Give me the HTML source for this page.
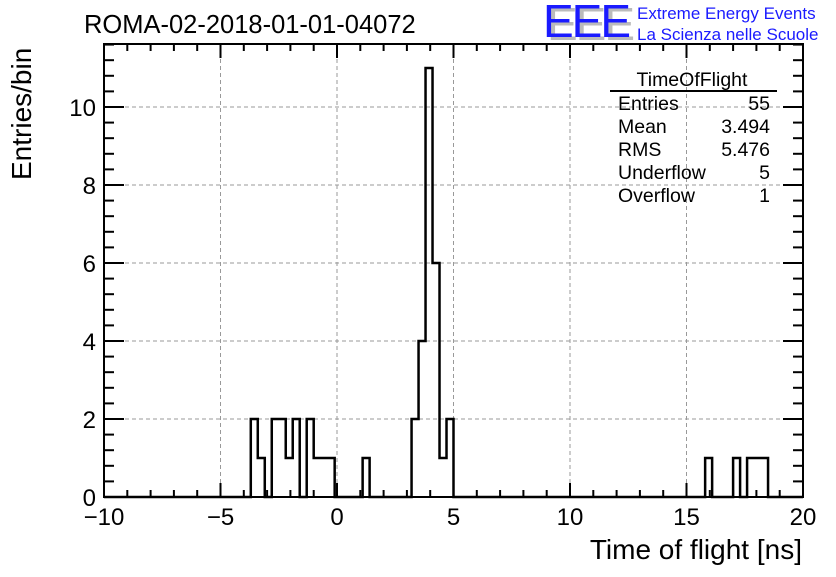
<!DOCTYPE html>
<html><head><meta charset="utf-8"><style>
body{margin:0;background:#fff}
svg text{font-family:"Liberation Sans",sans-serif}
</style></head><body>
<svg width="836" height="572" xmlns="http://www.w3.org/2000/svg">
<rect width="836" height="572" fill="#fff"/>
<g id="grid"></g>
<g id="axes"></g>
<path id="hist" fill="none" stroke="#000" stroke-width="2.5"/>
<text x="84" y="33" font-size="25.5">ROMA-02-2018-01-01-04072</text>
<text x="802" y="559" font-size="28" text-anchor="end">Time of flight [ns]</text>
<text transform="translate(31,180) rotate(-90)" font-size="28">Entries/bin</text>
<g>
<text x="547" y="40" font-size="46" fill="#bbb" style="letter-spacing:-2px">EEE</text>
<text x="543" y="37" font-size="46" fill="#1a1aff" style="letter-spacing:-2px">EEE</text>
<text x="637" y="19" font-size="17" fill="#1a1aff">Extreme Energy Events</text>
<text x="637" y="40" font-size="17" fill="#1a1aff">La Scienza nelle Scuole</text>
</g>
<g font-size="19.5">
<text x="692" y="86" text-anchor="middle">TimeOfFlight</text>
<line x1="610" y1="91" x2="777" y2="91" stroke="#000" stroke-width="2"/>
<text x="618" y="110">Entries</text><text x="770" y="110" text-anchor="end">55</text>
<text x="618" y="133">Mean</text><text x="770" y="133" text-anchor="end">3.494</text>
<text x="618" y="156">RMS</text><text x="770" y="156" text-anchor="end">5.476</text>
<text x="618" y="179">Underflow</text><text x="770" y="179" text-anchor="end">5</text>
<text x="618" y="202">Overflow</text><text x="770" y="202" text-anchor="end">1</text>
</g>
</svg>
<script>
const binLow = -10, binWidth = 0.3, nBins = 100;
const filledBins = [21,22,24,25,26,27,29,30,31,32,37,44,45,46,47,48,49,86,90,92,93,94];
const filledCounts = [2,1,2,2,1,2,2,1,1,1,1,2,4,11,6,1,2,1,1,1,1,1];
const xTicks = [-10,-5,0,5,10,15,20];
const yTicks = [0,2,4,6,8,10];
const X0=104,X1=803,Y0=497,Y1=44,xmin=-10,xmax=20,ymax=11.615;
const sx=v=>X0+(v-xmin)/(xmax-xmin)*(X1-X0);
const sy=v=>Y0-v/ymax*(Y0-Y1);
const NS="http://www.w3.org/2000/svg";
function mk(parent,tag,attrs){const e=document.createElementNS(NS,tag);for(const k in attrs)e.setAttribute(k,attrs[k]);parent.appendChild(e);return e;}
const grid=document.getElementById('grid'),axes=document.getElementById('axes');
xTicks.forEach(t=>{if(t>xmin&&t<xmax){const l=mk(grid,'line',{x1:sx(t),x2:sx(t),y1:Y0,y2:Y1,stroke:'#999','stroke-dasharray':'4,3'});

}});
yTicks.forEach(t=>{if(t>0){const l=mk(grid,'line',{x1:X0,x2:X1,y1:sy(t),y2:sy(t),stroke:'#999','stroke-dasharray':'4,3'});

}});
const fr=mk(axes,'rect',{x:X0,y:Y1,width:X1-X0,height:Y0-Y1,fill:'none',stroke:'#000','stroke-width':2});


for(let v=xmin;v<=xmax+1e-9;v+=1){const major=Math.abs(v%5)<1e-9;const len=major?14:7;
mk(axes,'line',{x1:sx(v),x2:sx(v),y1:Y0,y2:Y0-len,stroke:'#000','stroke-width':2});
mk(axes,'line',{x1:sx(v),x2:sx(v),y1:Y1,y2:Y1+len,stroke:'#000','stroke-width':2});}
xTicks.forEach(t=>{const tx=mk(axes,'text',{x:sx(t),y:Y0+28,'font-size':24,'text-anchor':'middle'});tx.textContent=(t<0?'\u2212'+(-t):t);

});
for(let v=0;v<=ymax;v+=0.4){const major=Math.abs(v/2-Math.round(v/2))<1e-6;const len=major?20:10;
mk(axes,'line',{x1:X0,x2:X0+len,y1:sy(v),y2:sy(v),stroke:'#000','stroke-width':2});
mk(axes,'line',{x1:X1,x2:X1-len,y1:sy(v),y2:sy(v),stroke:'#000','stroke-width':2});}
yTicks.forEach(t=>{const tx=mk(axes,'text',{x:X0-8,y:sy(t)+9,'font-size':24,'text-anchor':'end'});tx.textContent=t;

});
const counts=new Array(nBins).fill(0);
filledBins.forEach((b,i)=>counts[b]=filledCounts[i]);
let d='M'+sx(binLow)+','+sy(0);
for(let i=0;i<nBins;i++){const a=binLow+i*binWidth,b=a+binWidth;d+=' L'+sx(a)+','+sy(counts[i])+' L'+sx(b)+','+sy(counts[i]);}
d+=' L'+sx(binLow+nBins*binWidth)+','+sy(0);
document.getElementById('hist').setAttribute('d',d);
</script>
</body></html>
